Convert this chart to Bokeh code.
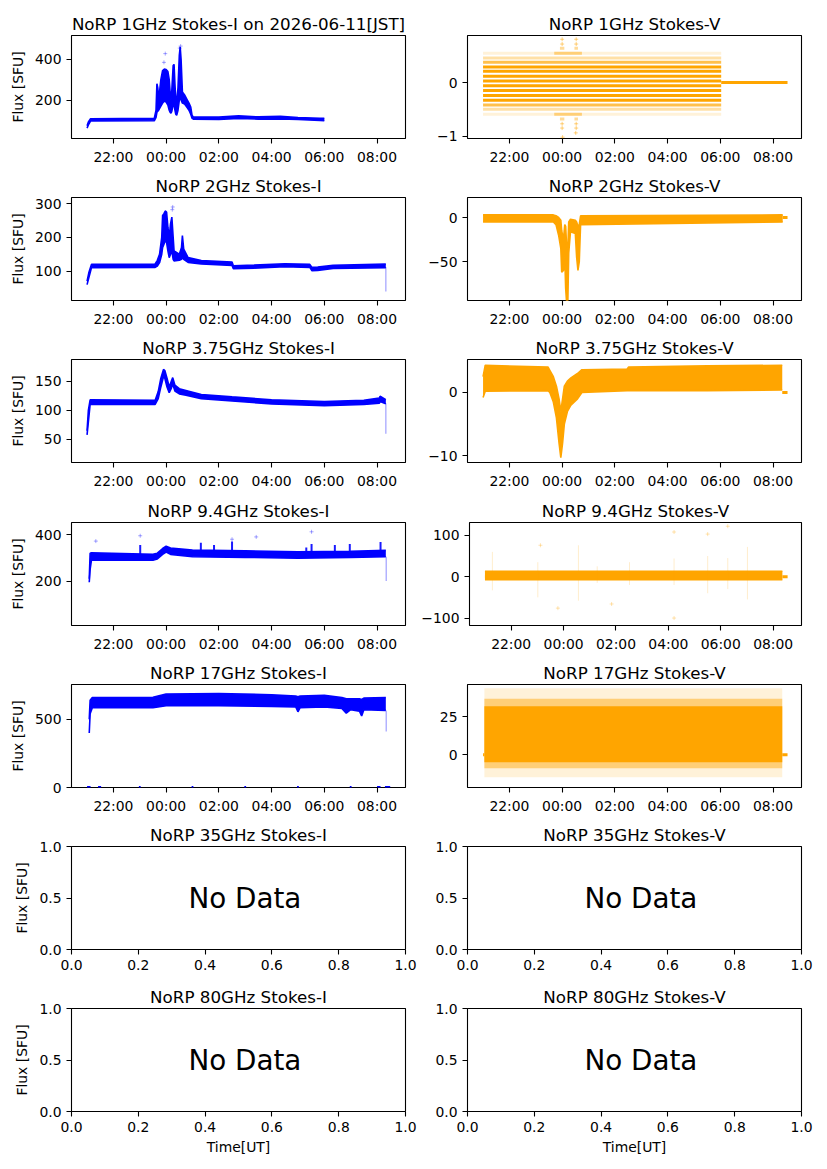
from bokeh.plotting import figure
from bokeh.models import Range1d, FixedTicker
from bokeh.layouts import column, row
from bokeh.embed import file_html
from bokeh.resources import INLINE
from bokeh.core.properties import value

# ------------------------------------------------------------------ data
freqs = ["1GHz", "2GHz", "3.75GHz", "9.4GHz", "17GHz", "35GHz", "80GHz"]
date_jst = "2026-06-11"

time_ticks = [22, 24, 26, 28, 30, 32]
time_tick_labels = ["22:00", "00:00", "02:00", "04:00", "06:00", "08:00"]
unit_ticks = [0, 0.2, 0.4, 0.6, 0.8, 1.0]
unit_tick_labels = ["0.0", "0.2", "0.4", "0.6", "0.8", "1.0"]
unit_yticks = [0, 0.5, 1.0]
unit_ytick_labels = ["0.0", "0.5", "1.0"]

# 1 GHz Stokes-I envelope (SFU)
i1_t = ["21:00", "21:03", "21:08", "23:33", "23:37", "23:39", "23:41", "23:43", "23:48", "23:52",
        "23:56", "00:00", "00:04", "00:07", "00:09", "00:11", "00:13", "00:16", "00:18", "00:20",
        "00:22", "00:24", "00:27", "00:30", "00:32", "00:34", "00:37", "00:42", "00:47", "00:52",
        "00:56", "00:59", "01:02", "02:00", "02:45", "03:30", "04:20", "05:00", "05:50", "06:00"]
i1_lo = [62, 78, 97, 98, 115, 140, 145, 150, 170, 185,
         195, 190, 175, 150, 140, 135, 145, 180, 175, 150,
         130, 125, 150, 200, 215, 200, 185, 180, 165, 150,
         130, 110, 106, 105, 110, 106, 107, 104, 100, 98]
i1_hi = [74, 92, 108, 110, 150, 280, 260, 200, 300, 345,
         352, 350, 340, 300, 240, 200, 250, 370, 375, 280,
         200, 190, 260, 420, 460, 400, 240, 225, 205, 185,
         165, 125, 116, 116, 122, 117, 120, 114, 110, 110]
i1_out_t = ["23:58", "23:55", "00:31", "00:33"]
i1_out_v = [428, 385, 455, 465]

# 1 GHz Stokes-V quantised levels
v1_t = ["21:00", "06:02"]
v1_dense = [0.29, 0.21, 0.12, 0.03, -0.06, -0.15, -0.24, -0.33]
v1_medium = [0.38, -0.42]
v1_faint = [0.46, -0.50]
v1_sparse = [0.55, -0.59]
v1_burst_t = ["23:42", "00:45"]
v1_burst = [0.55, -0.59]
v1_burst2_t0 = ["23:55", "00:28", "23:55", "00:28"]
v1_burst2_t1 = ["00:05", "00:36", "00:05", "00:36"]
v1_burst2_v = [0.64, 0.64, -0.68, -0.68]
v1_burst3_t = ["00:00", "00:32", "00:00", "00:32", "00:00", "00:32", "00:00", "00:32", "00:31", "00:01"]
v1_burst3_v = [0.72, 0.72, 0.81, 0.81, -0.77, -0.77, -0.85, -0.85, -0.94, -1.02]
v1_zero_t = ["06:02", "08:33"]

# 2 GHz Stokes-I
i2_t = ["21:00", "21:04", "21:10", "23:35", "23:40", "23:45", "23:50", "23:52", "23:55", "23:58",
        "00:01", "00:04", "00:07", "00:10", "00:13", "00:16", "00:18", "00:30", "00:35", "00:37",
        "00:40", "00:50", "01:20", "02:30", "02:33", "03:20", "04:30", "05:27", "05:32", "05:45",
        "06:20", "08:20"]
i2_lo = [60, 80, 110, 111, 115, 125, 150, 170, 180, 190,
         185, 160, 140, 150, 160, 135, 130, 132, 135, 140,
         135, 126, 121, 117, 107, 109, 113, 111, 101, 102,
         108, 110]
i2_hi = [70, 95, 120, 121, 132, 150, 200, 265, 270, 278,
         275, 230, 200, 240, 260, 200, 160, 150, 170, 205,
         165, 140, 131, 127, 116, 118, 122, 120, 111, 112,
         117, 121]
i2_out_t = ["00:15", "00:14"]
i2_out_v = [290, 282]
i2_drop_t = ["08:20"]
i2_drop_lo = [40]
i2_drop_hi = [112]

# 2 GHz Stokes-V
v2_t = ["21:00", "23:40", "23:46", "23:52", "23:57", "23:59", "00:03", "00:06", "00:08", "00:10",
        "00:13", "00:15", "00:19", "00:30", "00:33", "00:36", "00:39", "00:42", "08:22"]
v2_lo = [-5, -5, -8, -20, -35, -62, -60, -45, -80, -95,
         -95, -40, -16, -18, -45, -60, -50, -8, -5]
v2_hi = [3, 3, 2, 0, -3, -15, -25, -8, -10, -30,
         -35, -5, -2, -3, -5, -10, -8, 2, 3]
v2_zero_t = ["08:22", "08:33"]

# 3.75 GHz Stokes-I
i3_t = ["21:00", "21:03", "21:07", "23:35", "23:42", "23:48", "23:54", "23:57", "00:02", "00:07",
        "00:12", "00:15", "00:20", "00:30", "00:45", "01:20", "02:30", "04:00", "06:00", "07:30",
        "08:05", "08:07", "08:20"]
i3_lo = [58, 80, 110, 110, 120, 140, 158, 155, 140, 130,
         138, 145, 133, 128, 126, 120, 116, 111, 108, 110,
         112, 115, 111]
i3_hi = [65, 100, 118, 117, 132, 155, 170, 168, 155, 140,
         150, 156, 143, 137, 134, 127, 123, 118, 115, 117,
         121, 124, 118]
i3_drop_t = ["08:20"]
i3_drop_lo = [60]
i3_drop_hi = [112]

# 3.75 GHz Stokes-V
v3_t = ["21:00", "21:05", "23:28", "23:32", "23:40", "23:47", "23:53", "23:57", "00:01", "00:05",
        "00:12", "00:20", "00:35", "00:45", "02:28", "02:31", "05:30", "08:21"]
v3_lo = [-0.8, 0.2, 0.3, 0.0, -1.5, -4, -8, -10.3, -8, -5,
         -3, -2, -1, 0, 0.3, 0.3, 0.3, 0.4]
v3_hi = [2.5, 4.3, 4.0, 3.5, 2.5, 1.0, -1, -3, -1, 1,
         1.8, 2.3, 3.0, 3.6, 3.7, 4.0, 4.2, 4.3]
v3_zero_t = ["08:21", "08:33"]

# 9.4 GHz Stokes-I
i4_t = ["21:05", "21:07", "21:10", "23:30", "23:40", "23:52", "00:00", "00:10", "01:00", "03:00",
        "05:00", "07:00", "08:20"]
i4_lo = [195, 250, 290, 290, 295, 315, 325, 315, 305, 302, 298, 302, 305]
i4_hi = [210, 320, 322, 315, 320, 340, 350, 342, 333, 330, 326, 328, 332]
i4_spk_t = ["23:01", "01:19", "01:49", "02:30", "05:19", "05:31", "06:24", "06:58", "08:08"]
i4_spk_base = [312, 330, 330, 328, 325, 325, 325, 325, 330]
i4_spk_top = [355, 365, 355, 370, 345, 360, 355, 360, 368]
i4_out_t = ["23:01", "02:30", "05:31", "21:20", "03:25"]
i4_out_v = [395, 380, 412, 372, 390]
i4_drop_t = ["08:21"]
i4_drop_lo = [200]
i4_drop_hi = [305]

# 9.4 GHz Stokes-V
v4_t = ["21:00", "08:21"]
v4_lo = [-7, -7]
v4_hi = [13, 13]
v4_spk_t = ["21:17", "23:01", "00:34", "01:17", "02:31", "04:13", "05:30", "06:16", "07:01"]
v4_spk_hi = [60, 35, 76, 25, 35, 44, 50, 45, 72]
v4_spk_lo = [-33, -50, -58, -15, -20, -20, -40, -30, -55]
v4_out_t = ["04:13", "04:13", "05:30", "06:16", "23:47", "01:50", "23:07"]
v4_out_v = [108, -100, 103, 122, -76, -66, 76]
v4_zero_t0 = ["21:00", "08:21"]
v4_zero_t1 = ["21:02", "08:33"]

# 17 GHz Stokes-I
i5_t = ["21:05", "21:07", "21:12", "23:30", "00:00", "02:00", "04:00", "04:55", "05:00", "05:05",
        "06:00", "06:40", "06:50", "07:00", "07:20", "07:25", "07:30", "08:20"]
i5_lo = [400, 540, 585, 585, 600, 600, 595, 590, 555, 585,
         590, 580, 545, 570, 560, 525, 570, 565]
i5_hi = [500, 640, 660, 662, 685, 688, 680, 670, 665, 670,
         675, 660, 650, 650, 650, 645, 655, 660]
i5_zero_t0 = ["21:00", "21:25", "22:58", "00:58", "02:58", "04:58", "06:58", "08:00", "08:18"]
i5_zero_t1 = ["21:08", "21:32", "23:02", "01:02", "03:02", "05:02", "07:02", "08:08", "08:30"]
i5_drop_t = ["08:21"]
i5_drop_lo = [410]
i5_drop_hi = [565]

# 17 GHz Stokes-V
v5_t = ["21:03", "08:21"]
v5_core_lo = [-5, -5]
v5_core_hi = [32, 32]
v5_mid_lo = [-9, -9]
v5_mid_hi = [37, 37]
v5_out_lo = [-15, -15]
v5_out_hi = [44, 44]
v5_zero_t0 = ["21:00", "08:21"]
v5_zero_t1 = ["21:03", "08:33"]

no_data_x = [0.35]
no_data_y = [0.5]
no_data_text = ["No Data"]

# ------------------------------------------------------------------ helpers
FONT = "DejaVu Sans"
BLUE = "#0000ff"
ORANGE = "#ffa500"


def hrs(s):
    h, m = s.split(":")
    v = int(h) + int(m) / 60.0
    return v + 24 if int(h) < 12 else v


def H(lst):
    return [hrs(s) for s in lst]


TIME_RANGE = (20.41, 33.08)
ROW_H = [170, 162, 163, 162, 162, 162, 180]
ROW_TOP = [35, 27, 27, 27, 27, 27, 27]
FRAME_H = 103


def minus(v):
    s = ("%g" % v)
    return s.replace("-", "\u2212")


def make_fig(title, left, k, xr, yr, xt, xl, yt, yl, xlabel=None):
    h = ROW_H[k]
    top = ROW_TOP[k]
    w = 418 if left else 401
    p = figure(width=w, height=h, x_range=Range1d(*xr), y_range=Range1d(*yr),
               output_backend="svg", toolbar_location=None,
               min_border_left=71 if left else 49, min_border_right=13 if left else 18,
               min_border_top=top, min_border_bottom=h - top - FRAME_H)
    p.title.text = title
    p.title.align = "center"
    p.title.text_font = FONT
    p.title.text_font_size = "16.7px"
    p.title.text_font_style = "normal"
    p.title.text_color = "black"
    p.title.standoff = 4
    p.grid.visible = False
    p.outline_line_color = "black"
    p.outline_line_width = 1.1
    p.outline_line_alpha = 1
    p.background_fill_color = "white"
    p.border_fill_color = "white"
    for ax in (p.xaxis[0], p.yaxis[0]):
        ax.major_label_text_font = FONT
        ax.major_label_text_font_size = "13.9px"
        ax.major_label_text_color = "black"
        ax.axis_label_text_font = FONT
        ax.axis_label_text_font_size = "13.9px"
        ax.axis_label_text_font_style = "normal"
        ax.axis_label_text_color = "black"
        ax.axis_line_color = None
        ax.major_tick_line_color = "black"
        ax.major_tick_line_width = 1.1
        ax.major_tick_out = 5
        ax.major_tick_in = 0
        ax.minor_tick_line_color = None
        ax.major_label_standoff = 5
    p.xaxis.ticker = FixedTicker(ticks=xt)
    p.xaxis.major_label_overrides = {t: l for t, l in zip(xt, xl)}
    p.yaxis.ticker = FixedTicker(ticks=yt)
    p.yaxis.major_label_overrides = {t: l for t, l in zip(yt, yl)}
    if left:
        p.yaxis.axis_label = "Flux [SFU]"
        p.yaxis.axis_label_standoff = 6
    if xlabel:
        p.xaxis.axis_label = xlabel
        p.xaxis.axis_label_standoff = 4
    return p


def time_fig(title, left, k, yr, yt):
    return make_fig(title, left, k, TIME_RANGE, yr, time_ticks, time_tick_labels,
                    yt, [minus(v) for v in yt])


def band(p, t, lo, hi, color, alpha=1.0, edge=1.6):
    x = H(t)
    p.varea(x=x, y1=lo, y2=hi, fill_color=color, fill_alpha=alpha)
    if edge:
        p.line(x=x, y=lo, line_color=color, line_alpha=alpha, line_width=edge)
        p.line(x=x, y=hi, line_color=color, line_alpha=alpha, line_width=edge)


def vsegs(p, t, lo, hi, color, alpha, width=1.5):
    x = H(t)
    p.segment(x0=x, y0=lo, x1=x, y1=hi, line_color=color, line_alpha=alpha, line_width=width)


def hsegs(p, t0, t1, v, color, alpha, width=3):
    p.segment(x0=H(t0), y0=v, x1=H(t1), y1=v, line_color=color, line_alpha=alpha, line_width=width)


def points(p, t, v, color, alpha=0.35):
    p.scatter(x=H(t), y=v, marker="cross", size=4, line_color=color, line_alpha=alpha, line_width=1)


# ------------------------------------------------------------------ panels
figs = []

# row 1
p = time_fig("NoRP %s Stokes-I on %s[JST]" % (freqs[0], date_jst), True, 0, (11, 517), [200, 400])
band(p, i1_t, i1_lo, i1_hi, BLUE)
points(p, i1_out_t, i1_out_v, BLUE)
q = time_fig("NoRP %s Stokes-V" % freqs[0], False, 0, (-1.045, 0.88), [-1, 0])
hsegs(q, [v1_t[0]] * len(v1_sparse), [v1_t[1]] * len(v1_sparse), v1_sparse, ORANGE, 0.15)
hsegs(q, [v1_t[0]] * len(v1_faint), [v1_t[1]] * len(v1_faint), v1_faint, ORANGE, 0.35)
hsegs(q, [v1_t[0]] * len(v1_medium), [v1_t[1]] * len(v1_medium), v1_medium, ORANGE, 0.7)
hsegs(q, [v1_t[0]] * len(v1_dense), [v1_t[1]] * len(v1_dense), v1_dense, ORANGE, 1.0)
hsegs(q, [v1_burst_t[0]] * len(v1_burst), [v1_burst_t[1]] * len(v1_burst), v1_burst, ORANGE, 0.45)
hsegs(q, v1_burst2_t0, v1_burst2_t1, v1_burst2_v, ORANGE, 0.4)
points(q, v1_burst3_t, v1_burst3_v, ORANGE, 0.5)
hsegs(q, [v1_zero_t[0]], [v1_zero_t[1]], [0], ORANGE, 1.0)
figs.append((p, q))

# row 2
p = time_fig("NoRP %s Stokes-I" % freqs[1], True, 1, (13, 318), [100, 200, 300])
band(p, i2_t, i2_lo, i2_hi, BLUE)
points(p, i2_out_t, i2_out_v, BLUE)
vsegs(p, i2_drop_t, i2_drop_lo, i2_drop_hi, BLUE, 0.3)
q = time_fig("NoRP %s Stokes-V" % freqs[1], False, 1, (-94, 22.7), [-50, 0])
band(q, v2_t, v2_lo, v2_hi, ORANGE)
hsegs(q, [v2_zero_t[0]], [v2_zero_t[1]], [0], ORANGE, 1.0)
figs.append((p, q))

# row 3
p = time_fig("NoRP %s Stokes-I" % freqs[2], True, 2, (10.6, 187), [50, 100, 150])
band(p, i3_t, i3_lo, i3_hi, BLUE)
vsegs(p, i3_drop_t, i3_drop_lo, i3_drop_hi, BLUE, 0.3)
q = time_fig("NoRP %s Stokes-V" % freqs[2], False, 2, (-11.06, 5.21), [-10, 0])
band(q, v3_t, v3_lo, v3_hi, ORANGE)
hsegs(q, [v3_zero_t[0]], [v3_zero_t[1]], [0], ORANGE, 1.0)
figs.append((p, q))

# row 4
p = time_fig("NoRP %s Stokes-I" % freqs[3], True, 3, (9, 452), [200, 400])
band(p, i4_t, i4_lo, i4_hi, BLUE)
vsegs(p, i4_spk_t, i4_spk_base, i4_spk_top, BLUE, 0.9, 2)
points(p, i4_out_t, i4_out_v, BLUE)
vsegs(p, i4_drop_t, i4_drop_lo, i4_drop_hi, BLUE, 0.3)
q = time_fig("NoRP %s Stokes-V" % freqs[3], False, 3, (-118, 131), [-100, 0, 100])
band(q, v4_t, v4_lo, v4_hi, ORANGE)
vsegs(q, v4_spk_t, v4_spk_lo, v4_spk_hi, ORANGE, 0.2, 1)
points(q, v4_out_t, v4_out_v, ORANGE, 0.3)
hsegs(q, v4_zero_t0, v4_zero_t1, [0, 0], ORANGE, 1.0)
figs.append((p, q))

# row 5
p = time_fig("NoRP %s Stokes-I" % freqs[4], True, 4, (0, 755), [0, 500])
band(p, i5_t, i5_lo, i5_hi, BLUE)
hsegs(p, i5_zero_t0, i5_zero_t1, [0] * len(i5_zero_t0), BLUE, 1.0, 3)
vsegs(p, i5_drop_t, i5_drop_lo, i5_drop_hi, BLUE, 0.3)
q = time_fig("NoRP %s Stokes-V" % freqs[4], False, 4, (-21.7, 46.4), [0, 25])
band(q, v5_t, v5_out_lo, v5_out_hi, ORANGE, 0.15, 0)
band(q, v5_t, v5_mid_lo, v5_mid_hi, ORANGE, 0.45, 0)
band(q, v5_t, v5_core_lo, v5_core_hi, ORANGE, 1.0, 0)
hsegs(q, v5_zero_t0, v5_zero_t1, [0, 0], ORANGE, 1.0)
figs.append((p, q))

# rows 6-7: no data
for k, fq in enumerate(freqs[5:]):
    xlabel = "Time[UT]" if k == 1 else None
    pair = []
    for left, pol in ((True, "I"), (False, "V")):
        f = make_fig("NoRP %s Stokes-%s" % (fq, pol), left, 5 + k, (0, 1), (0, 1),
                     unit_ticks, unit_tick_labels, unit_yticks, unit_ytick_labels, xlabel)
        f.text(x=no_data_x, y=no_data_y, text=no_data_text, text_align="left",
               text_baseline="middle", text_font=value(FONT), text_font_size="27.8px",
               text_color="black")
        pair.append(f)
    figs.append(tuple(pair))

layout = column(*[row(a, b) for a, b in figs])
open("out.html", "w").write(file_html(layout, INLINE))
